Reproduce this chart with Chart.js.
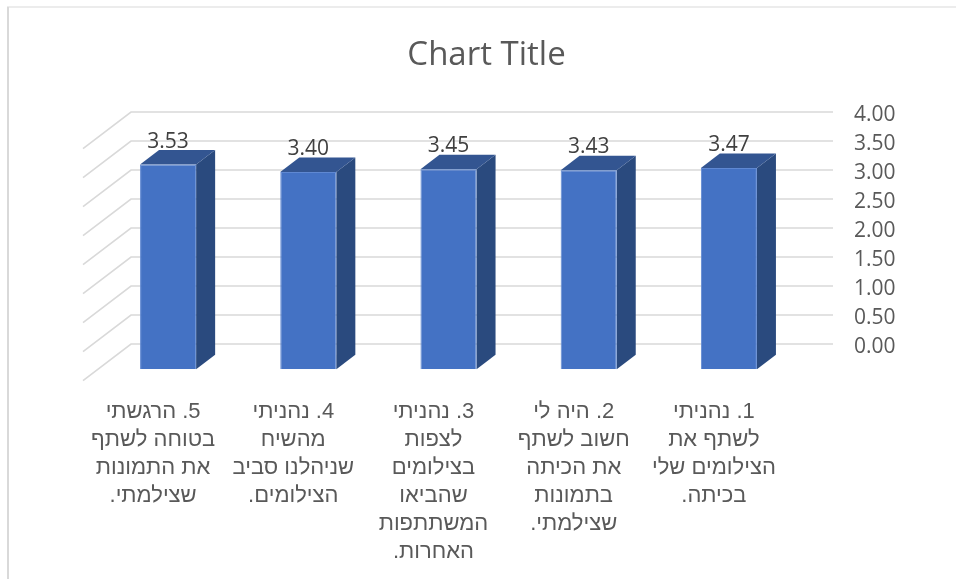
<!DOCTYPE html>
<html>
<head>
<meta charset="utf-8">
<style>html,body{margin:0;padding:0;background:#fff}canvas{display:block}</style>
<script src="https://cdn.jsdelivr.net/npm/chart.js@4"></script>
</head>
<body>
<canvas id="c" width="956" height="579" dir="rtl"></canvas>
<script>
const categories = [
  ["1. נהניתי", "לשתף את", "הצילומים שלי", "בכיתה."],
  ["2. היה לי", "חשוב לשתף", "את הכיתה", "בתמונות", "שצילמתי."],
  ["3. נהניתי", "לצפות", "בצילומים", "שהביאו", "המשתתפות", "האחרות."],
  ["4. נהניתי", "מהשיח", "שניהלנו סביב", "הצילומים."],
  ["5. הרגשתי", "בטוחה לשתף", "את התמונות", "שצילמתי."]
];
const values = [3.47, 3.43, 3.45, 3.40, 3.53];
const tickValues = [0, 0.5, 1, 1.5, 2, 2.5, 3, 3.5, 4];
const chartTitle = "Chart Title";

const depthX = 19, depthY = 14.5;
const wallLeft = 131, wallRight = 833, floorDX = 48, floorDY = 36.7;
const pxPerUnit = 58, areaTop = 112, areaBottom = 369.3, backZero = 344;

const scene3d = {
  id: "scene3d",
  beforeDraw(chart) {
    const c = chart.ctx;
    c.save();
    c.strokeStyle = "#d9d9d9";
    c.lineWidth = 2;
    c.beginPath();
    c.moveTo(8, 579); c.lineTo(8, 7);
    c.stroke();
    c.lineWidth = 1.2;
    c.beginPath();
    c.moveTo(7, 7); c.lineTo(956, 7);
    c.stroke();
    c.restore();
  },
  beforeDatasetsDraw(chart) {
    const c = chart.ctx, s = chart.scales.yBack;
    c.save();
    c.strokeStyle = "#d9d9d9";
    c.lineWidth = 1.6;
    s.ticks.forEach(t => {
      const y = s.getPixelForValue(t.value);
      c.beginPath();
      c.moveTo(wallLeft - floorDX, y + floorDY);
      c.lineTo(wallLeft, y);
      c.lineTo(wallRight, y);
      c.stroke();
    });
    chart.getDatasetMeta(0).data.forEach(b => {
      const l = b.x - b.width / 2, r = b.x + b.width / 2;
      c.fillStyle = "#2a4a7e";
      c.beginPath();
      c.moveTo(r, b.y); c.lineTo(r + depthX, b.y - depthY);
      c.lineTo(r + depthX, b.base - depthY); c.lineTo(r, b.base);
      c.closePath(); c.fill();
      c.fillStyle = "#335591";
      c.beginPath();
      c.moveTo(l, b.y); c.lineTo(l + depthX, b.y - depthY);
      c.lineTo(r + depthX, b.y - depthY); c.lineTo(r, b.y);
      c.closePath(); c.fill();
    });
    c.restore();
  },
  afterDatasetsDraw(chart) {
    const c = chart.ctx;
    c.save();
    c.direction = "ltr";
    c.font = "21px 'Open Sans'";
    c.fillStyle = "#404040";
    c.textAlign = "center";
    c.textBaseline = "middle";
    chart.getDatasetMeta(0).data.forEach((b, i) => {
      c.fillText(values[i].toFixed(2), b.x, b.y - 23);
    });
    c.restore();
  }
};

new Chart(document.getElementById("c"), {
  type: "bar",
  data: {
    labels: categories,
    datasets: [{
      data: values,
      yAxisID: "y",
      backgroundColor: "#4472c4",
      borderColor: "#5f88d2",
      borderWidth: 1,
      barPercentage: 1,
      categoryPercentage: 0.4
    }]
  },
  plugins: [scene3d],
  options: {
    responsive: false,
    animation: false,
    layout: { padding: { left: 17, right: 0, top: 0, bottom: 0 } },
    plugins: {
      legend: { display: false },
      tooltip: { enabled: false },
      title: {
        display: true,
        text: chartTitle,
        color: "#595959",
        font: { family: "'Open Sans'", size: 33, weight: "normal", lineHeight: 1.2 },
        padding: { top: 36, bottom: 36.4 }
      }
    },
    scales: {
      x: {
        reverse: true,
        grid: { display: false },
        border: { display: false },
        ticks: {
          autoSkip: false,
          maxRotation: 0,
          minRotation: 0,
          labelOffset: -15,
          padding: 21,
          color: "#595959",
          font: { family: "'Liberation Sans'", size: 22, lineHeight: "27.9px" }
        },
        afterFit(s) { s.height = 579 - areaBottom; }
      },
      y: {
        position: "left",
        min: 0,
        max: (areaBottom - areaTop) / pxPerUnit,
        grid: { display: false },
        border: { display: false },
        ticks: { display: false },
        afterFit(s) { s.width = 81; }
      },
      yBack: {
        position: "right",
        min: -(areaBottom - backZero) / pxPerUnit,
        max: (backZero - areaTop) / pxPerUnit,
        grid: { display: false },
        border: { display: false },
        afterBuildTicks(s) { s.ticks = tickValues.map(v => ({ value: v })); },
        ticks: {
          padding: 47,
          labelOffset: 3.5,
          color: "#595959",
          font: { family: "'Open Sans'", size: 21 },
          callback: v => Number(v).toFixed(2)
        },
        afterFit(s) { s.width = 157; }
      }
    }
  }
});
</script>
</body>
</html>
